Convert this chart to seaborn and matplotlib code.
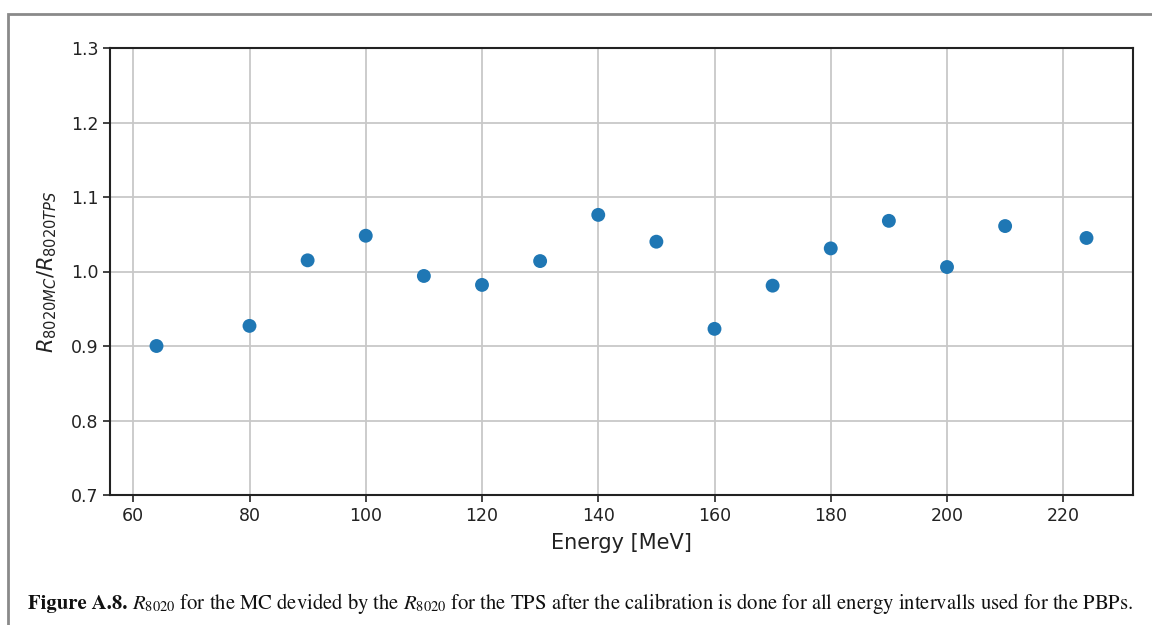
import matplotlib
matplotlib.use('Agg')
import matplotlib.pyplot as plt
import matplotlib.patches as mpatches
import seaborn as sns
import pandas as pd

# valores
energia = [64, 80, 90, 100, 110, 120, 130, 140, 150, 160, 170, 180, 190, 200, 210, 224]
razao = [0.900, 0.927, 1.015, 1.048, 0.994, 0.982, 1.014, 1.076, 1.040, 0.923,
         0.981, 1.031, 1.068, 1.006, 1.061, 1.045]
yticks = [0.7, 0.8, 0.9, 1.0, 1.1, 1.2, 1.3]
xticks = [60, 80, 100, 120, 140, 160, 180, 200, 220]

df = pd.DataFrame({'energia': energia, 'razao': razao})

sns.set_style('ticks')
plt.rcParams['font.family'] = ['DejaVu Sans']
plt.rcParams['mathtext.fontset'] = 'dejavusans'

fig = plt.figure(figsize=(11.52, 6.25), dpi=100)
ax = fig.add_axes([110/1152, 1 - 495/625, 1023/1152, 447/625])

sns.scatterplot(data=df, x='energia', y='razao', ax=ax, color='#1f77b4',
                s=100, edgecolor='none', zorder=3)

ax.set_xlim(56, 232)
ax.set_ylim(0.7, 1.3)
ax.set_xticks(xticks)
ax.set_yticks(yticks)
ax.set_yticklabels([f'{v:.1f}' for v in yticks])
ax.grid(True, color='#c8c8c8', lw=1.3)
ax.tick_params(labelsize=12.5, colors='#222222', width=1.2, length=5)
for s in ax.spines.values():
    s.set_linewidth(1.5)
    s.set_color('#222222')

ax.set_xlabel('Energy [MeV]', fontsize=15, color='#222222', labelpad=6)
ax.set_ylabel(r'$R_{8020MC}/R_{8020TPS}$', fontsize=15, color='#222222', labelpad=8)

# moldura da figura (cortada a direita e embaixo)
frame = mpatches.Rectangle((8/1152, -0.2), 1.2, 1 - 14/625 + 0.2, transform=fig.transFigure,
                           fill=False, edgecolor='#8a8a8a', lw=2, clip_on=False)
fig.add_artist(frame)

# legenda da figura
t1 = fig.text(28/1152, 1 - 609/625, 'Figure A.8.', fontsize=14.9, fontweight='bold',
              family='STIXGeneral', color='#111111')
fig.canvas.draw()
bb = t1.get_window_extent()
fig.text(bb.x1/1152 + 5/1152, 1 - 609/625,
         r'$R_{8020}$ for the MC devided by the $R_{8020}$ for the TPS after the calibration '
         r'is done for all energy intervalls used for the PBPs.',
         fontsize=14.9, family='STIXGeneral', math_fontfamily='stix', color='#111111')

fig.savefig('out.png', dpi=100)
